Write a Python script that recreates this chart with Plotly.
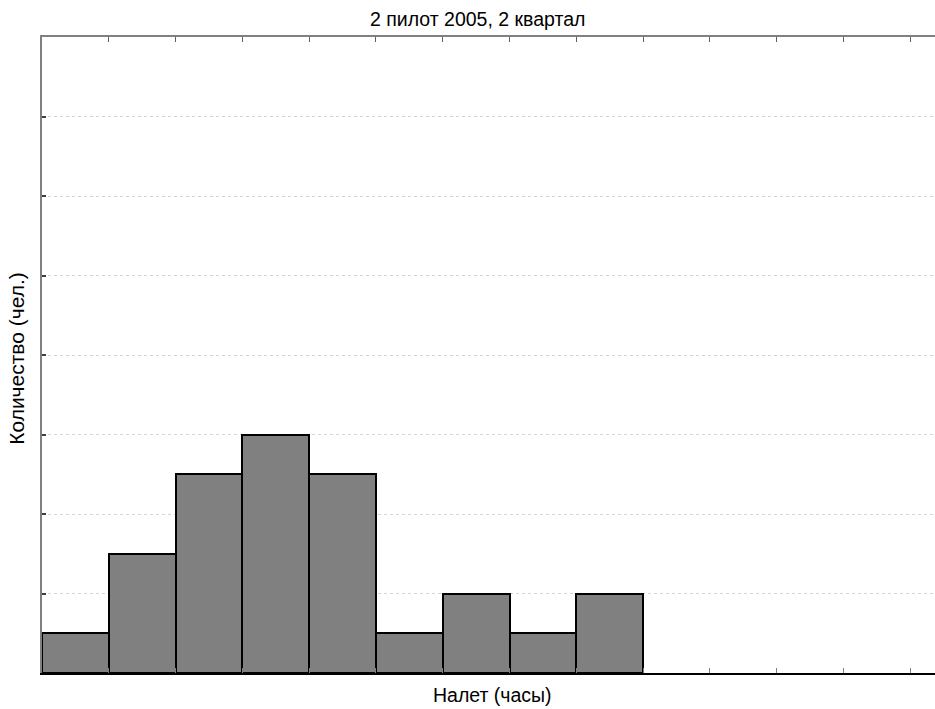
import plotly.graph_objects as go

# Flight-hour histogram: bin index (left edge) and number of pilots per bin
bin_starts = [0, 1, 2, 3, 4, 5, 6, 7, 8]
counts = [1, 3, 5, 6, 5, 1, 2, 1, 2]
bin_edges = list(range(0, 14))

title_text = "2 пилот 2005, 2 квартал"
x_title = "Налет (часы)"
y_title = "Количество (чел.)"

x_range = [0, 13.37]
y_range = [0, 16]
y_grid = [2, 4, 6, 8, 10, 12, 14]

font_family = "Liberation Sans, Arial, sans-serif"
text_size = 19.5

fig = go.Figure()
fig.add_trace(go.Bar(
    x=[b + 0.5 for b in bin_starts],
    y=counts,
    width=1,
    marker=dict(color="#808080", line=dict(color="black", width=2)),
    showlegend=False,
    hoverinfo="y",
))
# invisible trace that carries the top frame axis
fig.add_trace(go.Scatter(x=[0], y=[0], xaxis="x2", mode="markers",
                         marker=dict(opacity=0), showlegend=False, hoverinfo="skip"))

fig.update_layout(
    width=935, height=709,
    margin=dict(l=42, r=0, t=37, b=36),
    paper_bgcolor="white", plot_bgcolor="white",
    font=dict(family=font_family, size=text_size, color="black"),
    bargap=0,
    xaxis=dict(
        range=x_range, tickmode="array", tickvals=bin_edges,
        showticklabels=False, ticks="inside", ticklen=5, tickwidth=1,
        tickcolor="#808080", showline=True, linecolor="black", linewidth=2,
        showgrid=False, zeroline=False, fixedrange=True,
    ),
    xaxis2=dict(
        range=x_range, overlaying="x", side="top", anchor="y",
        tickmode="array", tickvals=bin_edges, showticklabels=False,
        ticks="inside", ticklen=5, tickwidth=1, tickcolor="#606060",
        showline=True, linecolor="#808080", linewidth=2,
        showgrid=False, zeroline=False,
    ),
    yaxis=dict(
        range=y_range, tickmode="array", tickvals=y_grid,
        showticklabels=False, ticks="inside", ticklen=4, tickwidth=1.5,
        tickcolor="#404040", showline=True, linecolor="#808080", linewidth=2,
        showgrid=True, gridcolor="#d4d4d4", gridwidth=1, griddash="dot",
        zeroline=False,
    ),
    annotations=[
        dict(text=title_text, xref="paper", yref="paper", x=0.488, y=1,
             yshift=18, xanchor="center", yanchor="middle", showarrow=False,
             font=dict(size=text_size)),
        dict(text=x_title, xref="paper", yref="paper", x=0.505, y=0,
             yshift=-22, xanchor="center", yanchor="middle", showarrow=False,
             font=dict(size=text_size)),
        dict(text=y_title, xref="paper", yref="paper", x=0, y=0.494,
             xshift=-25, xanchor="center", yanchor="middle", textangle=-90,
             showarrow=False, font=dict(size=21)),
    ],
)

fig.write_html("out.html")
